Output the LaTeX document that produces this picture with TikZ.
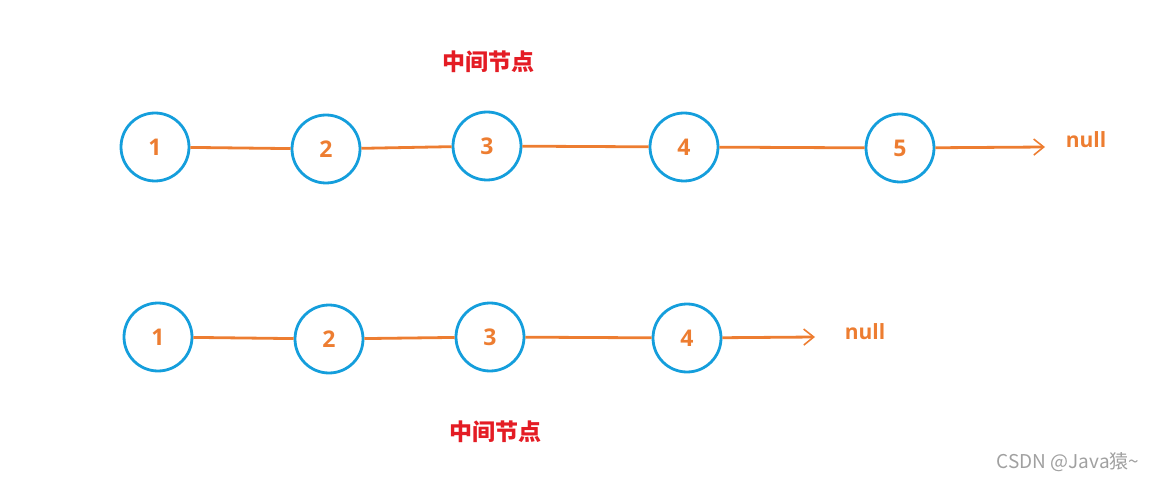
\documentclass[tikz,border=0pt]{standalone}
\usepackage{fontspec}
\setsansfont{Open Sans}
\newfontfamily\cjk{Noto Sans CJK SC}
\usetikzlibrary{arrows.meta}
\definecolor{lorange}{RGB}{237,125,49}
\definecolor{lblue}{RGB}{20,158,220}
\definecolor{lred}{RGB}{228,28,36}
\definecolor{wgray}{RGB}{160,160,160}
\begin{document}
\begin{tikzpicture}[x=1pt,y=-1pt,
  lnode/.style={circle,draw=lblue,line width=2.8pt,minimum size=68pt,inner sep=0pt,
    text=lorange,font=\sffamily\bfseries\fontsize{23}{23}\selectfont},
  link/.style={draw=lorange,line width=2.8pt},
  tip/.style={link,-{Straight Barb[length=10pt,width=16pt,line width=1.6pt]}},
  nulltext/.style={text=lorange,font=\sffamily\bfseries\fontsize{21}{21}\selectfont},
  midtext/.style={text=lred,font=\cjk\bfseries\fontsize{23}{23}\selectfont},
  wmtext/.style={text=wgray,font=\cjk\fontsize{19}{19}\selectfont}]
\useasboundingbox (0,0) rectangle (1154,481);
% top row
\node[lnode] (a1) at (155,147) {1};
\node[lnode] (a2) at (326,149) {2};
\node[lnode] (a3) at (487,146) {3};
\node[lnode] (a4) at (684,147) {4};
\node[lnode] (a5) at (900,148) {5};
\coordinate (aend) at (1045,147);
\node[nulltext] (anull) at (1086,140) {null};
\node[midtext] (amid) at (488,62) {中间节点};
\draw[link] (a1) -- (a2);
\draw[link] (a2) -- (a3);
\draw[link] (a3) -- (a4);
\draw[link] (a4) -- (a5);
\draw[tip] (a5) -- (aend);
% bottom row
\node[lnode] (b1) at (158,337) {1};
\node[lnode] (b2) at (329,339) {2};
\node[lnode] (b3) at (490,337) {3};
\node[lnode] (b4) at (687,338) {4};
\coordinate (bend) at (815,337);
\node[nulltext] (bnull) at (865,332) {null};
\node[midtext] (bmid) at (495,432) {中间节点};
\draw[link] (b1) -- (b2);
\draw[link] (b2) -- (b3);
\draw[link] (b3) -- (b4);
\draw[tip] (b4) -- (bend);
\node[wmtext] (wm) at (1068,462) {CSDN @Java猿\textasciitilde};
\end{tikzpicture}
\end{document}
